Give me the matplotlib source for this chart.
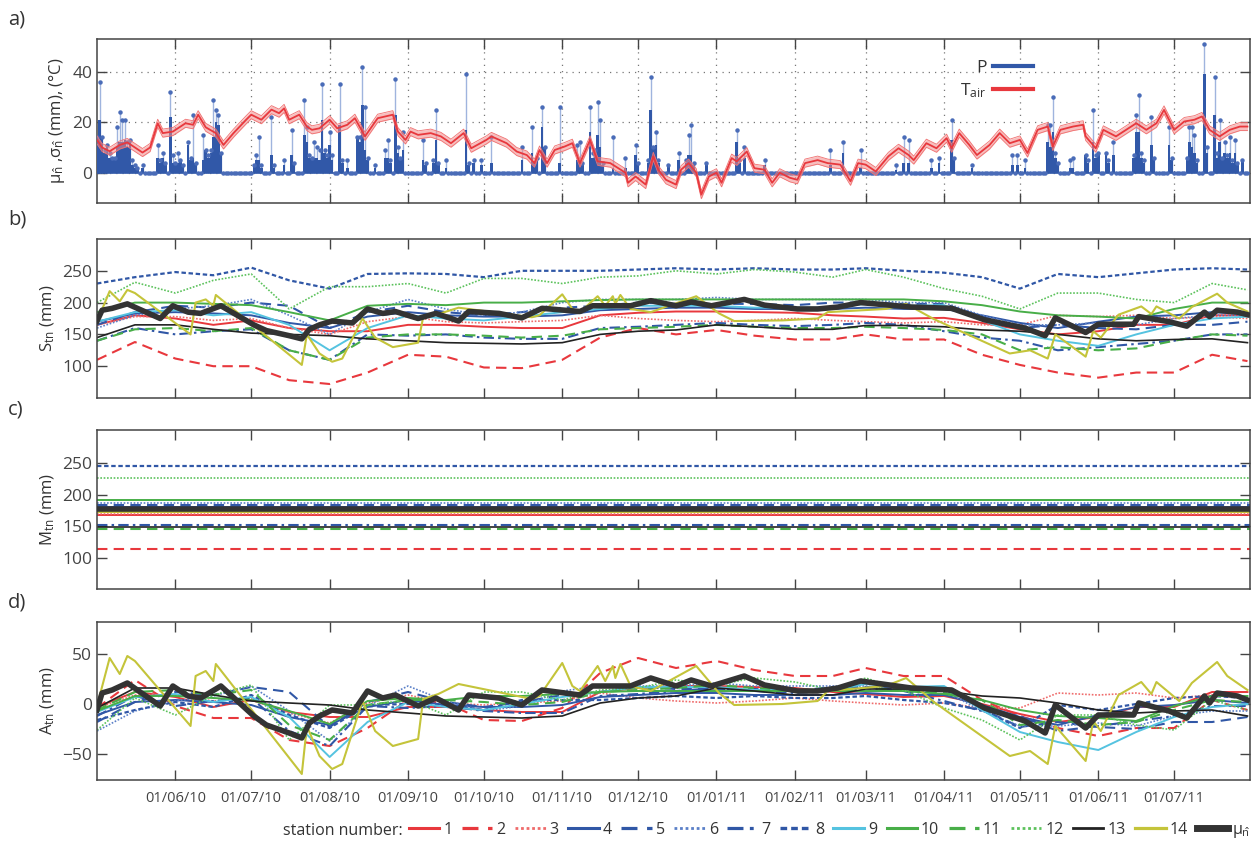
import numpy as np
import matplotlib
matplotlib.use("Agg")
import matplotlib.pyplot as plt
import matplotlib.dates as mdates
from matplotlib.lines import Line2D

plt.rcParams['font.family'] = ['Open Sans', 'DejaVu Sans']
plt.rcParams['mathtext.fontset'] = 'custom'
plt.rcParams['mathtext.rm'] = 'Open Sans'
plt.rcParams['mathtext.it'] = 'Open Sans'
plt.rcParams['text.color'] = '#333333'
plt.rcParams['axes.labelcolor'] = '#333333'
plt.rcParams['xtick.color'] = '#444444'
plt.rcParams['ytick.color'] = '#444444'

T0 = np.datetime64('2010-05-01')
T_END = np.datetime64('2011-07-31')

# ---- panel a: precipitation (day offset, mean, mean+sd) ----
P_EVENTS = [(0, 14, 14), (1, 21, 36), (2, 14, 14), (4, 10, 11), (7, 5, 6), (8, 10, 18), (9, 12, 24),
            (10, 12, 21), (11, 13, 21), (12, 10, 12), (13, 12, 13), (14, 3, 5), (18, 2, 3), (24, 6, 11),
            (26, 6, 8), (29, 22, 32), (30, 4, 7), (32, 4, 8), (33, 5, 5), (36, 11, 12), (38, 6, 23),
            (39, 4, 4), (42, 5, 15), (43, 9, 9), (46, 14, 29), (47, 20, 25), (48, 19, 23), (49, 8, 8),
            (63, 5, 7), (64, 5, 14), (65, 2, 3), (69, 7, 22), (74, 3, 5), (77, 7, 17), (82, 15, 29),
            (83, 12, 18), (86, 6, 12), (87, 6, 10), (88, 5, 9), (89, 21, 35), (92, 11, 16), (96, 19, 35),
            (99, 2, 5), (103, 14, 14), (104, 12, 14), (105, 27, 42), (106, 9, 26), (110, 2, 3),
            (114, 6, 9), (115, 6, 13), (118, 23, 37), (121, 9, 16), (129, 5, 13), (134, 13, 25),
            (135, 4, 4), (138, 2, 5), (146, 17, 39), (149, 4, 5), (152, 3, 5), (156, 4, 14), (168, 5, 10),
            (172, 8, 18), (176, 18, 26), (177, 10, 10), (183, 4, 26), (190, 5, 11), (191, 4, 12),
            (195, 16, 26), (198, 15, 28), (199, 10, 21), (204, 2, 14), (209, 2, 6), (213, 7, 11),
            (219, 25, 38), (220, 10, 10), (221, 11, 16), (226, 3, 3), (230, 5, 8), (234, 7, 15),
            (235, 7, 19), (241, 3, 4), (253, 12, 17), (256, 6, 10), (264, 3, 5), (290, 3, 9), (295, 8, 12),
            (302, 2, 9), (316, 1, 3), (319, 4, 14), (321, 4, 13), (330, 2, 5), (333, 4, 6), (338, 13, 21),
            (346, 2, 3), (362, 3, 7), (364, 3, 7), (367, 2, 5), (376, 12, 19), (377, 10, 19), (378, 16, 30),
            (385, 2, 5), (386, 2, 6), (391, 7, 7), (394, 12, 25), (396, 8, 8), (399, 7, 8), (402, 7, 12),
            (411, 16, 23), (412, 16, 31), (417, 11, 22), (424, 11, 18), (432, 12, 18), (433, 10, 18),
            (434, 8, 15), (438, 39, 51), (442, 23, 38), (444, 12, 21), (446, 8, 12), (448, 8, 14),
            (450, 8, 13), (453, 5, 5)]
# smaller showers between the larger events
P_SMALL = [(3, 8, 9), (5, 6, 8), (6, 5, 6), (15, 2, 3), (16, 2, 2), (25, 4, 5), (27, 3, 4), (31, 3, 4),
           (34, 3, 3), (37, 5, 6), (44, 6, 7), (45, 8, 9), (62, 3, 3), (70, 2, 3), (78, 3, 4), (84, 6, 7),
           (85, 5, 6), (90, 8, 9), (91, 6, 7), (93, 5, 7), (97, 4, 5), (107, 5, 6), (116, 4, 5),
           (119, 8, 10), (120, 5, 6), (130, 3, 4), (133, 4, 5), (147, 3, 4), (173, 3, 4), (174, 5, 6),
           (192, 3, 4), (196, 6, 8), (197, 7, 9), (200, 3, 4), (214, 3, 4), (218, 4, 5), (222, 4, 5),
           (233, 4, 5), (236, 3, 4), (254, 4, 5), (339, 5, 6), (379, 6, 8), (380, 3, 4), (392, 4, 5),
           (395, 6, 7), (400, 4, 5), (410, 6, 7), (413, 6, 8), (414, 4, 5), (418, 5, 6), (425, 5, 6),
           (431, 5, 6), (435, 4, 5), (439, 8, 10), (443, 6, 8), (445, 5, 6), (447, 6, 7), (449, 4, 5),
           (451, 3, 4)]

# air temperature (day offset, mean)
T_AIR = [(0, 13), (2, 10), (5, 8.5), (9, 11), (12, 12), (15, 10), (18, 8), (21, 10), (24, 19.6), (26, 15.7),
         (30, 16.3), (35, 19.6), (38, 19), (40, 23), (43, 18), (47, 15.7), (50, 11), (54, 15.7), (59, 21),
         (61, 23), (65, 21), (69, 25), (72, 23.6), (74, 25.5), (76, 21), (80, 23), (83, 18.3), (85, 17),
         (88, 17.6), (92, 21), (95, 17.6), (99, 19), (102, 21.6), (106, 14.4), (111, 21.6), (117, 23),
         (119, 16.3), (122, 13), (124, 16.3), (127, 15), (132, 15.7), (136, 14.4), (140, 11.7), (145, 15.7),
         (148, 9.7), (154, 13), (156, 14.4), (162, 11.7), (166, 8.4), (170, 7), (173, 3.8), (175, 9),
         (178, 3.8), (181, 9), (185, 10.4), (188, 11.7), (191, 3.8), (195, 13), (198, 4.5), (203, 3.8),
         (209, 0), (210, -4), (213, -1.5), (217, -4.7), (220, 6.5), (222, 1.2), (225, -2.8), (229, -4.7),
         (231, 1.2), (234, 3.8), (237, 0), (239, -8.7), (242, -1.5), (245, 0), (247, -4), (251, 5.8),
         (253, 4.5), (257, 8.4), (260, 1.8), (264, 1.2), (267, -4), (270, 0), (274, -2), (277, -2.8),
         (280, 3.8), (285, 5), (289, 3.8), (294, 3.2), (298, -3.4), (301, 3.8), (304, 3.2), (308, 0.5),
         (313, 6.5), (317, 9.7), (321, 7), (323, 5), (328, 11.7), (332, 9.7), (336, 13.7), (338, 9.7),
         (341, 15.7), (345, 11), (348, 7), (353, 11), (357, 15.7), (361, 11.7), (365, 13), (368, 7.8),
         (372, 17), (376, 18.3), (378, 10.4), (381, 17), (386, 18.3), (390, 19), (391, 14.4), (395, 9.7),
         (398, 17), (403, 14.4), (407, 17), (411, 19.6), (415, 17), (419, 19.6), (422, 24.9), (426, 17),
         (430, 20.3), (434, 21), (437, 22.3), (440, 17), (444, 14.4), (448, 17), (452, 18.3), (455, 18.3)]
T_SPREAD = 1.6

# ---- panel b: storage per station on half-month dates ----
S_DATES = ['2010-05-01', '2010-05-16', '2010-06-01', '2010-06-16', '2010-07-01', '2010-07-16',
           '2010-08-01', '2010-08-16', '2010-09-01', '2010-09-16', '2010-10-01', '2010-10-16',
           '2010-11-01', '2010-11-16', '2010-12-01', '2010-12-16', '2011-01-01', '2011-01-16',
           '2011-02-01', '2011-02-16', '2011-03-01', '2011-03-16', '2011-04-01', '2011-04-16',
           '2011-05-01', '2011-05-16', '2011-06-01', '2011-06-16', '2011-07-01', '2011-07-16', '2011-07-30']
S1 = [165, 180, 175, 165, 172, 160, 155, 155, 165, 165, 162, 160, 160, 180, 184, 186,
      186, 185, 184, 180, 178, 175, 176, 168, 158, 150, 155, 165, 165, 180, 180]
S2 = [110, 138, 112, 100, 100, 78, 72, 90, 118, 115, 98, 97, 110, 145, 160, 150,
      157, 148, 142, 142, 150, 142, 142, 118, 102, 90, 82, 90, 90, 118, 108]
S3 = [165, 178, 178, 172, 175, 160, 150, 170, 178, 170, 168, 170, 172, 180, 175, 172,
      170, 172, 175, 172, 170, 168, 170, 165, 165, 180, 178, 180, 175, 178, 175]
S4 = [170, 183, 185, 183, 180, 168, 160, 178, 185, 180, 178, 178, 180, 188, 190, 192,
      192, 190, 190, 190, 192, 190, 190, 180, 168, 160, 170, 178, 180, 185, 182]
S5 = [165, 185, 195, 192, 200, 195, 160, 185, 195, 185, 180, 185, 192, 195, 200, 198,
      198, 198, 196, 200, 200, 198, 198, 178, 160, 165, 160, 158, 165, 165, 170]
S6 = [160, 180, 190, 195, 205, 180, 150, 185, 205, 190, 180, 185, 200, 205, 205, 205,
      208, 205, 205, 205, 205, 200, 200, 180, 165, 165, 168, 165, 175, 180, 180]
S7 = [140, 160, 150, 155, 158, 125, 110, 150, 148, 150, 145, 143, 143, 160, 162, 165,
      168, 165, 163, 165, 168, 165, 155, 145, 140, 125, 130, 135, 140, 150, 150]
S8 = [230, 240, 248, 243, 255, 235, 222, 245, 246, 245, 240, 250, 250, 250, 252, 254,
      252, 254, 252, 252, 254, 250, 247, 240, 222, 245, 240, 246, 252, 254, 252]
S9 = [170, 185, 188, 180, 185, 165, 125, 160, 180, 175, 172, 178, 185, 190, 195, 195,
      195, 192, 192, 192, 198, 195, 196, 172, 150, 140, 132, 150, 165, 175, 178]
S10 = [185, 200, 200, 198, 196, 185, 172, 195, 198, 196, 200, 200, 202, 204, 205, 205,
       205, 205, 205, 205, 205, 205, 202, 196, 186, 180, 178, 175, 190, 200, 200]
S11 = [140, 158, 160, 155, 160, 125, 110, 145, 150, 150, 148, 145, 148, 158, 160, 162,
       165, 162, 160, 160, 162, 160, 157, 150, 125, 130, 125, 128, 140, 150, 148]
S12 = [200, 232, 215, 235, 245, 190, 225, 225, 230, 215, 238, 238, 230, 240, 242, 250,
       245, 252, 248, 240, 252, 240, 222, 210, 190, 215, 215, 205, 200, 230, 220]
S13 = [145, 165, 165, 158, 152, 150, 148, 143, 140, 137, 136, 135, 137, 150, 155, 157,
       165, 162, 158, 158, 164, 164, 162, 157, 155, 150, 143, 140, 142, 143, 137]
# station 14 and the station mean are more jagged, so they get their own day offsets
S14_PTS = [(0, 170), (5, 218), (9, 202), (12, 220), (15, 215), (37, 150), (39, 200), (43, 205), (46, 195),
           (47, 212), (81, 102), (83, 150), (88, 120), (93, 107), (97, 112), (105, 175), (110, 145),
           (117, 130), (127, 137), (129, 177), (135, 182), (143, 192), (172, 177), (175, 180), (184, 213),
           (188, 190), (191, 185), (198, 210), (201, 195), (204, 210), (205, 198), (207, 212), (211, 190),
           (219, 185), (237, 210), (246, 183), (252, 171), (271, 172), (285, 175), (289, 185), (312, 190),
           (320, 198), (331, 174), (361, 120), (369, 125), (376, 112), (379, 150), (391, 115), (394, 155),
           (397, 145), (404, 181), (413, 194), (417, 182), (419, 194), (428, 175), (433, 193), (443, 214),
           (447, 200), (455, 186)]
MU_PTS = [(0, 171), (2, 188), (6, 191), (12, 198), (25, 175), (30, 195), (36, 185), (41, 183), (49, 195),
          (62, 165), (67, 156), (76, 148), (81, 143), (84, 158), (88, 165), (93, 171), (101, 168), (107, 190),
          (113, 183), (118, 186), (127, 175), (134, 183), (143, 171), (147, 186), (159, 183), (168, 176),
          (176, 191), (191, 186), (196, 195), (211, 195), (219, 203), (229, 195), (235, 201), (243, 195),
          (256, 205), (264, 196), (277, 190), (285, 190), (293, 193), (302, 200), (322, 193), (338, 191),
          (351, 173), (367, 160), (375, 148), (379, 176), (391, 153), (396, 166), (410, 166), (412, 178),
          (424, 170), (431, 163), (438, 185), (440, 178), (443, 188), (451, 185), (455, 181)]

# ---- panel c: long-term mean storage per station (1..14, mean) ----
M_STATION = [168, 114, 169, 181, 183, 187, 152, 246, 178, 192, 146, 226, 149, 172]
M_MU = 177

# ---- styles ----
RED, BLUE, LBLUE, CYAN = '#e8383d', '#3057a6', '#5b80c8', '#55c3e0'
GREEN, LGREEN, BLACK, YEL = '#48ae48', '#5cc25c', '#222222', '#c4c43a'
STYLES = [
    (RED, '-', 1.4), (RED, (0, (5, 3)), 1.5), ('#ef6b6b', (0, (1, 1)), 1.2), (BLUE, '-', 1.4),
    (BLUE, (0, (5, 3)), 1.5), (LBLUE, (0, (1, 1)), 1.2), (BLUE, (0, (5, 2, 1.2, 2)), 1.5),
    (BLUE, (0, (2, 1.2)), 1.6), (CYAN, '-', 1.4), (GREEN, '-', 1.4), (GREEN, (0, (5, 3)), 1.5),
    (LGREEN, (0, (1, 1)), 1.2), (BLACK, '-', 1.2), (YEL, '-', 1.5)]
MU_STYLE = ('#333333', '-', 4.0)


def style_axes(ax, bottom_labels=False):
    ax.set_xlim(T0, T_END)
    ax.set_xticks(np.arange('2010-06', '2011-08', dtype='datetime64[M]').astype('datetime64[D]'))
    ax.xaxis.set_major_formatter(mdates.DateFormatter('%d/%m/%y'))
    ax.tick_params(direction='in', length=7, width=1, top=True, right=True, labelsize=12.5)
    ax.tick_params(axis='x', labelsize=10.5, pad=8)
    if not bottom_labels:
        ax.tick_params(axis='x', labelbottom=False)
    for s in ax.spines.values():
        s.set_color('#444444')
        s.set_linewidth(1.1)


fig = plt.figure(figsize=(12.53, 8.46), dpi=100)
W, H = 1253, 846


def add_ax(top, bottom):
    return fig.add_axes([97 / W, 1 - bottom / H, 1153 / W, (bottom - top) / H])


axa = add_ax(39, 203)
axb = add_ax(239, 398)
axc = add_ax(430, 589)
axd = add_ax(622, 780)

# panel a
ndays = 456
pm = np.zeros(ndays)
pt = np.zeros(ndays)
for d, m, t in P_EVENTS + P_SMALL:
    pm[d] = m
    pt[d] = t
pdays = T0 + np.arange(ndays)
axa.vlines(pdays, 0, pt, color='#9fb4de', lw=1.0, zorder=2)
axa.bar(pdays, pm, width=1.0, color='#3158a8', zorder=3)
axa.plot(pdays, pt, 'o', color='#4a6cb8', ms=2.2, zorder=4)
axa.axhline(0, color='#3158a8', lw=1.2, zorder=3)
tdays = T0 + np.array([p[0] for p in T_AIR])
tval = np.array([p[1] for p in T_AIR])
axa.fill_between(tdays, tval - T_SPREAD, tval + T_SPREAD, color='#f28a8a', alpha=0.55, lw=0, zorder=5)
axa.plot(tdays, tval - T_SPREAD, color='#f07070', lw=0.6, zorder=5)
axa.plot(tdays, tval + T_SPREAD, color='#f07070', lw=0.6, zorder=5)
axa.plot(tdays, tval, color=RED, lw=1.3, zorder=6)
axa.set_ylim(-12, 53)
axa.set_yticks([0, 20, 40])
axa.grid(True, linestyle=(0, (1, 4)), color='#777777', lw=0.9)
axa.set_axisbelow(True)
axa.set_ylabel(r'$\mu_{\hat{n}}$ ,$\sigma_{\hat{n}}$ (mm), (°C)', fontsize=12)
style_axes(axa)
axa.legend([Line2D([], [], color='#3158a8', lw=3), Line2D([], [], color=RED, lw=3)],
           ['P', r'T$_{\mathrm{air}}$'], loc='upper left', bbox_to_anchor=(0.735, 0.97),
           frameon=False, markerfirst=False, fontsize=12.5, handlelength=2.3,
           handletextpad=0.4, labelspacing=0.3)

# panels b, c, d
S_ALL = [S1, S2, S3, S4, S5, S6, S7, S8, S9, S10, S11, S12, S13]
sd = np.array(S_DATES, dtype='datetime64[D]')
series = [(sd, np.array(s, dtype=float)) for s in S_ALL]
series.append((T0 + np.array([p[0] for p in S14_PTS]), np.array([p[1] for p in S14_PTS], dtype=float)))
mu_t = T0 + np.array([p[0] for p in MU_PTS])
mu_v = np.array([p[1] for p in MU_PTS], dtype=float)

handles = []
for i, ((tt, vv), (c, ls, lw)) in enumerate(zip(series, STYLES)):
    axb.plot(tt, vv, color=c, ls=ls, lw=lw, zorder=2 + i * 0.01)
    axc.plot([T0, T_END], [M_STATION[i]] * 2, color=c, ls=ls, lw=lw, zorder=2 + i * 0.01)
    axd.plot(tt, vv - M_STATION[i], color=c, ls=ls, lw=lw, zorder=2 + i * 0.01)
    handles.append(Line2D([], [], color=c, ls=ls, lw=lw + 0.8))
c, ls, lw = MU_STYLE
axb.plot(mu_t, mu_v, color=c, lw=lw, zorder=5)
axc.plot([T0, T_END], [M_MU] * 2, color=c, lw=lw, zorder=5)
axd.plot(mu_t, mu_v - M_MU, color=c, lw=lw, zorder=5)
handles.append(Line2D([], [], color=c, lw=lw + 1))

axb.set_ylim(50, 300)
axb.set_yticks([100, 150, 200, 250])
axb.set_ylabel(r'S$_{\mathrm{tn}}$ (mm)', fontsize=12)
style_axes(axb)
axc.set_ylim(50, 303)
axc.set_yticks([100, 150, 200, 250])
axc.set_ylabel(r'M$_{\mathrm{tn}}$ (mm)', fontsize=12)
style_axes(axc)
axd.set_ylim(-76, 82)
axd.set_yticks([-50, 0, 50])
axd.set_ylabel(r'A$_{\mathrm{tn}}$ (mm)', fontsize=12)
style_axes(axd, bottom_labels=True)

for ax, lab in zip([axa, axb, axc, axd], ['a)', 'b)', 'c)', 'd)']):
    bb = ax.get_position()
    fig.text(8 / W, bb.y1 + 10 / H, lab, fontsize=14.5, va='bottom', ha='left')

labels = [str(i) for i in range(1, 15)] + [r'$\mu_{\hat{n}}$']
leg = fig.legend(handles, labels, ncol=15, loc='center right', bbox_to_anchor=(1250 / W, 0.018),
                 frameon=False, fontsize=11.5, handlelength=1.9, columnspacing=0.6,
                 handletextpad=0.25, borderaxespad=0, borderpad=0)
fig.canvas.draw()
lb = leg.get_window_extent()
fig.text((lb.x0 - 6) / W, 0.018, 'station number:', fontsize=11.5, ha='right', va='center')

fig.savefig('out.png', dpi=100)
